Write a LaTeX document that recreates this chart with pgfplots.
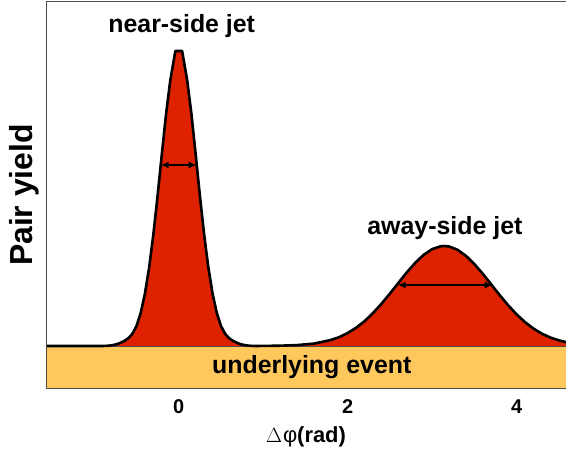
\documentclass[border=0pt]{standalone}
\usepackage{pgfplots}
\pgfplotsset{compat=1.18}
\usepackage{pgfplotstable}
\usepackage{fontspec}
\setmainfont{Liberation Sans}
\usetikzlibrary{arrows.meta}
\definecolor{jetred}{RGB}{222,34,0}
\definecolor{ueorange}{RGB}{255,200,92}
\definecolor{framegray}{RGB}{80,75,75}

\pgfplotstableread{
x y
-1.571 42
-0.90 42
-0.85 42.2
-0.80 42.6
-0.75 43.4
-0.70 44.8
-0.65 46.8
-0.60 49.5
-0.55 54.0
-0.50 62.0
-0.45 75.1
-0.40 94.4
-0.35 120.7
-0.30 153.8
-0.25 192.5
-0.20 234.0
-0.15 274.1
-0.10 307.7
-0.04 337
0.04 337
0.10 307.7
0.15 274.1
0.20 234.0
0.25 192.5
0.30 153.8
0.35 120.7
0.40 94.4
0.45 75.1
0.50 62.0
0.55 54.0
0.60 49.5
0.65 46.8
0.70 44.8
0.75 43.4
0.80 42.6
0.85 42.2
0.90 42
1.00 42.1
1.20 42.3
1.40 42.9
1.60 44.4
1.80 48.0
1.90 50.9
2.00 55.0
2.10 60.3
2.20 66.9
2.30 75.0
2.40 84.3
2.50 94.5
2.60 105.2
2.70 115.7
2.80 125.3
2.90 133.3
3.00 138.9
3.10 141.7
3.1416 142
3.20 141.5
3.30 138.2
3.40 132.1
3.50 123.8
3.60 114.0
3.70 103.4
3.80 92.7
3.90 82.6
4.00 73.5
4.10 65.7
4.20 59.3
4.30 54.2
4.40 50.4
4.50 47.6
4.583 45.9
}\curve

\begin{document}
\begin{tikzpicture}
\begin{axis}[
  scale only axis,
  width=520bp, height=386bp,
  xmin=-1.571, xmax=4.583,
  ymin=0, ymax=386,
  clip=false,
  axis line style={draw=none},
  xtick={0,2,4},
  ytick=\empty,
  major tick length=0pt,
  xticklabel style={font=\bfseries\fontsize{20}{24}\selectfont, yshift=-8bp},
  /pgf/number format/assume math mode=true,
  xlabel={\fontsize{22}{26}\selectfont$\Delta$\kern1bp φ\textbf{(rad)}},
  xlabel style={yshift=-6bp},
  ylabel={\bfseries\fontsize{32}{36}\selectfont Pair yield},
  ylabel style={yshift=3bp},
]
\addplot[draw=none, fill=jetred] table {\curve} \closedcycle;
\addplot[draw=none, fill=ueorange] coordinates {(-1.571,42) (4.583,42)} \closedcycle;
\addplot[framegray, line width=0.8bp] coordinates {(-1.571,42) (4.583,42)};
\addplot[black, line width=2.6bp, line join=round] table {\curve};
\addplot[black, line width=1.6bp, {Latex[length=8bp,width=7bp]}-{Latex[length=8bp,width=7bp]}] coordinates {(-0.213,223) (0.213,223)};
\addplot[black, line width=1.6bp, {Latex[length=8bp,width=7bp]}-{Latex[length=8bp,width=7bp]}] coordinates {(2.59,103) (3.716,103)};
\node[font=\bfseries\fontsize{25}{30}\selectfont] at (axis cs:0.035,362) {near-side jet};
\node[font=\bfseries\fontsize{25}{30}\selectfont] at (axis cs:3.15,160) {away-side jet};
\node[font=\bfseries\fontsize{25}{30}\selectfont] at (axis cs:1.574,21) {underlying event};
\draw[framegray, line width=1bp] (rel axis cs:1,1) -- (rel axis cs:0,1) -- (rel axis cs:0,0) -- (rel axis cs:1,0);
\end{axis}
\pgfresetboundingbox
\path ([xshift=-46bp,yshift=-62bp]current axis.south west) rectangle ([yshift=2bp]current axis.north east);
\end{tikzpicture}
\end{document}
